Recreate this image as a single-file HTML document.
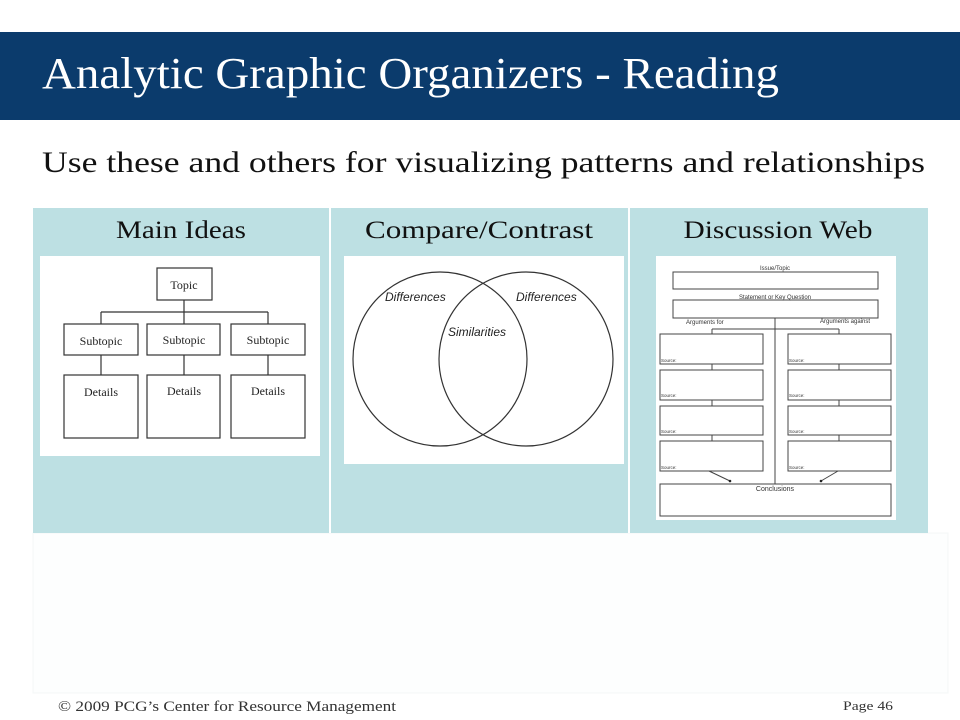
<!DOCTYPE html>
<html><head><meta charset="utf-8"><style>
html,body{margin:0;padding:0;background:#fff;}
svg{display:block;}
</style></head><body>
<svg width="960" height="720" viewBox="0 0 960 720" xmlns="http://www.w3.org/2000/svg" font-family="Liberation Serif, serif">
<rect width="960" height="720" fill="#fff"/>
<rect x="0" y="32" width="960" height="88" fill="#0b3b6c"/>
<text x="42" y="88" font-size="44" fill="#fff" textLength="737" lengthAdjust="spacingAndGlyphs">Analytic Graphic Organizers - Reading</text>
<text x="42" y="172" font-size="30" fill="#111" textLength="883" lengthAdjust="spacingAndGlyphs">Use these and others for visualizing patterns and relationships</text>
<rect x="33" y="533" width="915" height="160" fill="#fdfefe" stroke="#f4f7f7"/>
<rect x="33" y="208" width="895" height="325" fill="#bde0e3"/>
<line x1="330" y1="208" x2="330" y2="533" stroke="#fff" stroke-width="2"/>
<line x1="629" y1="208" x2="629" y2="533" stroke="#fff" stroke-width="2"/>
<text x="181" y="238" font-size="25" fill="#111" text-anchor="middle" textLength="130" lengthAdjust="spacingAndGlyphs">Main Ideas</text>
<text x="479" y="238" font-size="25" fill="#111" text-anchor="middle" textLength="228" lengthAdjust="spacingAndGlyphs">Compare/Contrast</text>
<text x="778" y="238" font-size="25" fill="#111" text-anchor="middle" textLength="189" lengthAdjust="spacingAndGlyphs">Discussion Web</text>

<!-- Main ideas -->
<rect x="40" y="256" width="280" height="200" fill="#fff"/>
<g fill="none" stroke="#333" stroke-width="1.2">
<rect x="157" y="268" width="55" height="32"/>
<line x1="184" y1="300" x2="184" y2="324"/>
<line x1="101" y1="312" x2="268" y2="312"/>
<line x1="101" y1="312" x2="101" y2="324"/>
<line x1="268" y1="312" x2="268" y2="324"/>
<rect x="64" y="324" width="74" height="31"/>
<rect x="147" y="324" width="73" height="31"/>
<rect x="231" y="324" width="74" height="31"/>
<line x1="101" y1="355" x2="101" y2="375"/>
<line x1="184" y1="355" x2="184" y2="375"/>
<line x1="268" y1="355" x2="268" y2="375"/>
<rect x="64" y="375" width="74" height="63"/>
<rect x="147" y="375" width="73" height="63"/>
<rect x="231" y="375" width="74" height="63"/>
</g>
<g font-size="12" fill="#222" text-anchor="middle">
<text x="184" y="289">Topic</text>
<text x="101" y="345">Subtopic</text>
<text x="184" y="344">Subtopic</text>
<text x="268" y="344">Subtopic</text>
<text x="101" y="396">Details</text>
<text x="184" y="395">Details</text>
<text x="268" y="395">Details</text>
</g>

<!-- Venn -->
<rect x="344" y="256" width="280" height="208" fill="#fff"/>
<circle cx="440" cy="359" r="87" fill="none" stroke="#333" stroke-width="1.2"/>
<circle cx="526" cy="359" r="87" fill="none" stroke="#333" stroke-width="1.2"/>
<g font-size="12" font-style="italic" fill="#222" font-family="Liberation Sans, sans-serif">
<text x="385" y="301">Differences</text>
<text x="516" y="301">Differences</text>
<text x="448" y="336">Similarities</text>
</g>

<!-- Discussion web -->
<rect x="656" y="256" width="240" height="264" fill="#fff"/>
<g fill="none" stroke="#444" stroke-width="1">
<rect x="673" y="272" width="205" height="17"/>
<rect x="673" y="300" width="205" height="18"/>
<line x1="775" y1="318" x2="775" y2="484"/>
<line x1="712" y1="329" x2="839" y2="329"/>
<line x1="712" y1="329" x2="712" y2="334"/>
<line x1="839" y1="329" x2="839" y2="334"/>
<rect x="660" y="334" width="103" height="30"/>
<rect x="660" y="370" width="103" height="30"/>
<rect x="660" y="406" width="103" height="29"/>
<rect x="660" y="441" width="103" height="30"/>
<rect x="788" y="334" width="103" height="30"/>
<rect x="788" y="370" width="103" height="30"/>
<rect x="788" y="406" width="103" height="29"/>
<rect x="788" y="441" width="103" height="30"/>
<line x1="712" y1="364" x2="712" y2="370"/>
<line x1="712" y1="400" x2="712" y2="406"/>
<line x1="712" y1="435" x2="712" y2="441"/>
<line x1="839" y1="364" x2="839" y2="370"/>
<line x1="839" y1="400" x2="839" y2="406"/>
<line x1="839" y1="435" x2="839" y2="441"/>
<line x1="709" y1="471" x2="730" y2="481"/>
<line x1="838" y1="471" x2="821" y2="481"/>
<rect x="660" y="484" width="231" height="32"/>
</g>
<circle cx="730" cy="481" r="1.3" fill="#222"/>
<circle cx="821" cy="481" r="1.3" fill="#222"/>
<g font-family="Liberation Sans, sans-serif" fill="#333">
<text x="775" y="270" font-size="6" text-anchor="middle">Issue/Topic</text>
<text x="775" y="299" font-size="6" text-anchor="middle">Statement or Key Question</text>
<text x="686" y="324" font-size="6">Arguments for</text>
<text x="820" y="323" font-size="6">Arguments against</text>
<text x="775" y="491" font-size="7" text-anchor="middle">Conclusions</text>
<g font-size="4.5">
<text x="661" y="362">Source:</text><text x="661" y="397">Source:</text><text x="661" y="433">Source:</text><text x="661" y="469">Source:</text>
<text x="789" y="362">Source:</text><text x="789" y="397">Source:</text><text x="789" y="433">Source:</text><text x="789" y="469">Source:</text>
</g>
</g>

<text x="58" y="711" font-size="15" fill="#333" textLength="338" lengthAdjust="spacingAndGlyphs">© 2009 PCG’s Center for Resource Management</text>
<text x="843" y="710" font-size="13" fill="#333" textLength="50" lengthAdjust="spacingAndGlyphs">Page 46</text>
</svg>
</body></html>
